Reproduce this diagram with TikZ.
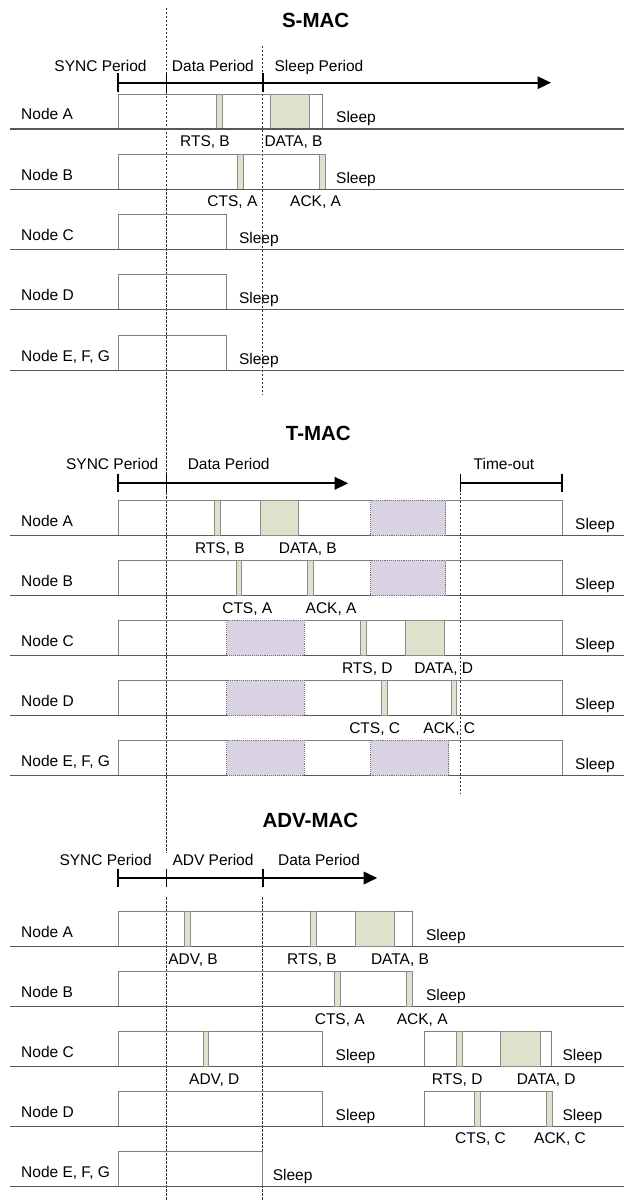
\documentclass[tikz,border=0pt]{standalone}
\usepackage{fontspec}
\setmainfont{Liberation Sans}
\usepackage{xcolor}
\usetikzlibrary{arrows.meta}
\definecolor{pktgreen}{HTML}{DDE2CC}
\definecolor{heardpurple}{HTML}{D8D2E2}

\begin{document}
\begin{tikzpicture}[x=1pt,y=-1pt,
  txt/.style={font=\fontsize{15.5}{18}\selectfont,inner sep=0pt,anchor=base},
  lft/.style={txt,anchor=base west},
  ttl/.style={font=\fontsize{20.5}{24}\selectfont\bfseries,inner sep=0pt,anchor=base},
  awake/.style={draw=black!50,line width=0.9pt},
  pkt/.style={draw=black!45,fill=pktgreen,line width=0.8pt},
  heard/.style={draw=black!55,fill=heardpurple,densely dotted,line width=0.9pt},
  axis/.style={line width=1.8pt},
  guide/.style={dash pattern=on 2.5pt off 1.5pt,line width=0.7pt,black!80},
  ground/.style={line width=1.1pt,black!65}]
 \useasboundingbox (0,0) rectangle (624,1201);

 % period guides
 \draw[guide] (166.5,8) -- (166.5,853);
 \draw[guide] (166.5,897) -- (166.5,1201);
 \draw[guide] (262.6,45.7) -- (262.6,395);
 \draw[guide] (460.4,476.7) -- (460.4,793);
 \draw[guide] (262.6,897) -- (262.6,1201);

 %%% S-MAC
 \node[ttl] (smacTitle) at (315.6,27.3) {S-MAC};
 \node[txt] (smacSync) at (100.5,72) {SYNC Period};
 \node[txt] (smacData) at (212.9,72) {Data Period};
 \node[txt] (smacSleep) at (319,72) {Sleep Period};
 \draw[axis,-{Triangle[length=13.5pt,width=12.5pt]}] (118.2,82.7) -- (551,82.7);
 \foreach \x in {118.2,166.5,262.6}
   \draw[axis] (\x,73) -- (\x,92.5);

 \foreach \b/\r in {129/322.3,189.3/325.1,249.6/226.8,309.9/226.8,370.2/226.8}
   \draw[awake] (118.2,\b-35) rectangle (\r,\b);
 \draw[pkt] (216,94) rectangle (222,129);
 \draw[pkt] (270,94) rectangle (309.3,129);
 \draw[pkt] (237.2,154.3) rectangle (243.1,189.3);
 \draw[pkt] (319.5,154.3) rectangle (325.1,189.3);
 \foreach \b/\n/\s [count=\i] in {129/Node A/336,189.3/Node B/336,249.6/Node C/238.8,
     309.9/Node D/238.8,370.2/{Node E, F, G}/238.8}{
   \draw[ground] (10,\b) -- (624,\b);
   \node[lft] (smacN\i) at (21,\b-9) {\n};
   \node[lft] (smacZ\i) at (\s,\b-6) {Sleep};
 }
 \node[txt] (smacRtsB) at (205,146.5) {RTS, B};
 \node[txt] (smacDataB) at (293.5,146.5) {DATA, B};
 \node[txt] (smacCtsA) at (232.4,206.8) {CTS, A};
 \node[txt] (smacAckA) at (315.6,206.8) {ACK, A};

 %%% T-MAC
 \node[ttl] (tmacTitle) at (318.3,440) {T-MAC};
 \node[txt] (tmacSync) at (112.2,469) {SYNC Period};
 \node[txt] (tmacData) at (228.7,469) {Data Period};
 \node[txt] (tmacOut) at (504,469) {Time-out};
 \draw[axis,-{Triangle[length=13.5pt,width=12.5pt]}] (118.2,483.3) -- (348.2,483.3);
 \draw[axis] (460.4,483.3) -- (562.3,483.3);
 \foreach \x in {118.2,166.5,460.4,562.3}
   \draw[axis] (\x,473.5) -- (\x,492);

 \foreach \b/\n [count=\i] in {535.7/Node A,595.7/Node B,655.7/Node C,715.7/Node D,
     775.7/{Node E, F, G}}{
   \draw[awake] (118.2,\b-35.5) rectangle (562.3,\b);
   \draw[ground] (10,\b) -- (624,\b);
   \node[lft] (tmacN\i) at (21,\b-9) {\n};
   \node[lft] (tmacZ\i) at (575,\b-6) {Sleep};
 }
 % overheard traffic
 \draw[heard] (370.9,500.2) rectangle (445.7,535.7);
 \draw[heard] (370.9,560.2) rectangle (445.7,595.7);
 \draw[heard] (226.8,620.2) rectangle (304.4,655.7);
 \draw[heard] (226.8,680.2) rectangle (304.4,715.7);
 \draw[heard] (226.8,740.2) rectangle (304.4,775.7);
 \draw[heard] (370.9,740.2) rectangle (448.5,775.7);
 % packets
 \draw[pkt] (214.1,500.2) rectangle (220.1,535.7);
 \draw[pkt] (259.9,500.2) rectangle (298.4,535.7);
 \draw[pkt] (236,560.2) rectangle (241.5,595.7);
 \draw[pkt] (307.6,560.2) rectangle (313.6,595.7);
 \draw[pkt] (360.1,620.2) rectangle (366.1,655.7);
 \draw[pkt] (405.1,620.2) rectangle (444.5,655.7);
 \draw[pkt] (381.2,680.2) rectangle (387.2,715.7);
 \draw[pkt] (451.6,680.2) rectangle (456.8,715.7);
 \node[txt] (tmacRtsB) at (219.9,553.2) {RTS, B};
 \node[txt] (tmacDataB) at (307.8,553.2) {DATA, B};
 \node[txt] (tmacCtsA) at (247.3,613.2) {CTS, A};
 \node[txt] (tmacAckA) at (331.1,613.2) {ACK, A};
 \node[txt] (tmacRtsD) at (367.3,673.2) {RTS, D};
 \node[txt] (tmacDataD) at (443.7,673.2) {DATA, D};
 \node[txt] (tmacCtsC) at (374.7,733.2) {CTS, C};
 \node[txt] (tmacAckC) at (449.3,733.2) {ACK, C};

 %%% ADV-MAC
 \node[ttl] (advTitle) at (310.4,827.3) {ADV-MAC};
 \node[txt] (advSync) at (105.6,865) {SYNC Period};
 \node[txt] (advAdv) at (213,865) {ADV Period};
 \node[txt] (advData) at (319,865) {Data Period};
 \draw[axis,-{Triangle[length=13.5pt,width=12.5pt]}] (118.2,878) -- (377.2,878);
 \foreach \x in {118.2,166.5,262.6}
   \draw[axis] (\x,868.5) -- (\x,887.3);

 \foreach \b/\r in {946.7/412.7,1006.7/412.7,1066.7/322.3,1126.7/322.3,1186.7/262.6}
   \draw[awake] (118.2,\b-35) rectangle (\r,\b);
 \draw[awake] (424.6,1031.7) rectangle (551.1,1066.7);
 \draw[awake] (424.6,1091.7) rectangle (551.1,1126.7);
 \foreach \b/\n/\s [count=\i] in {946.7/Node A/425.8,1006.7/Node B/425.8,1066.7/Node C/335.5,
     1126.7/Node D/335.5,1186.7/{Node E, F, G}/272.6}{
   \draw[ground] (10,\b) -- (624,\b);
   \node[lft] (advN\i) at (21,\b-9) {\n};
   \node[lft] (advZ\i) at (\s,\b-6) {Sleep};
 }
 \node[lft] (advZc) at (562.3,1060.7) {Sleep};
 \node[lft] (advZd) at (562.3,1120.7) {Sleep};
 % packets
 \draw[pkt] (184.2,911.7) rectangle (190.2,946.7);
 \draw[pkt] (310.4,911.7) rectangle (316.4,946.7);
 \draw[pkt] (355.4,911.7) rectangle (394,946.7);
 \draw[pkt] (334.3,971.7) rectangle (340.2,1006.7);
 \draw[pkt] (406.7,971.7) rectangle (412.7,1006.7);
 \draw[pkt] (202.9,1031.7) rectangle (208.1,1066.7);
 \draw[pkt] (456.4,1031.7) rectangle (462,1066.7);
 \draw[pkt] (500.6,1031.7) rectangle (540,1066.7);
 \draw[pkt] (474.3,1091.7) rectangle (480.3,1126.7);
 \draw[pkt] (546.4,1091.7) rectangle (552.3,1126.7);
 \node[txt] (advAdvB) at (193,964.2) {ADV, B};
 \node[txt] (advRtsB) at (312,964.2) {RTS, B};
 \node[txt] (advDataB) at (400,964.2) {DATA, B};
 \node[txt] (advCtsA) at (339.8,1024.2) {CTS, A};
 \node[txt] (advAckA) at (422.2,1024.2) {ACK, A};
 \node[txt] (advAdvD) at (214.3,1084.2) {ADV, D};
 \node[txt] (advRtsD) at (457.2,1084.2) {RTS, D};
 \node[txt] (advDataD) at (546.2,1084.2) {DATA, D};
 \node[txt] (advCtsC) at (480.5,1143.5) {CTS, C};
 \node[txt] (advAckC) at (560,1143.5) {ACK, C};
\end{tikzpicture}
\end{document}
